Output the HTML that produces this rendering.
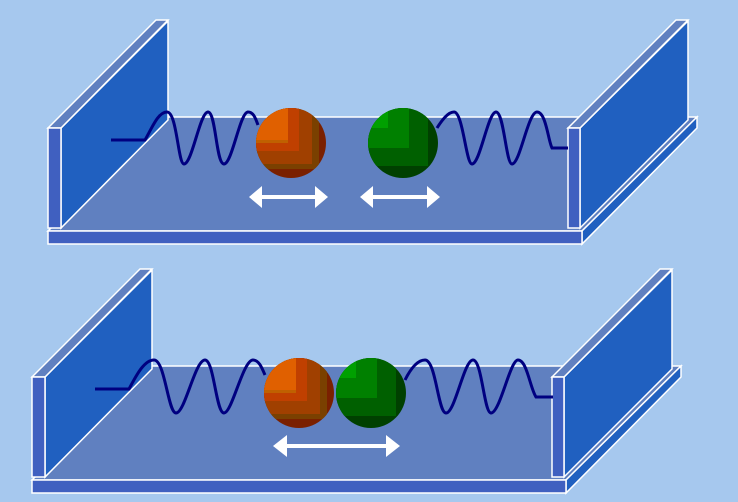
<!DOCTYPE html>
<html><head><meta charset="utf-8"><style>
html,body{margin:0;padding:0;background:#a6c8ee;}
svg{display:block;}
</style></head><body>
<svg width="738" height="502" viewBox="0 0 738 502" xmlns="http://www.w3.org/2000/svg">
<defs>
<clipPath id="cb"><circle cx="0" cy="0" r="35"/></clipPath>
<g id="track">
  <polygon points="168,117 697,117 582,231 48,231" fill="#6080c0" stroke="#fff" stroke-width="1.5"/>
  <polygon points="582,231 697,117 697,128 582,244" fill="#2060c0" stroke="#fff" stroke-width="1.5"/>
  <rect x="48" y="231" width="534" height="13" fill="#4060c0" stroke="#fff" stroke-width="1.5"/>
  <polygon points="61,128 168,21 168,120 61,228" fill="#2060c0" stroke="#fff" stroke-width="1.5"/>
  <polygon points="48,128 156,20 168,20 61,128" fill="#6080c0" stroke="#fff" stroke-width="1.5"/>
  <rect x="48" y="128" width="13" height="100" fill="#4060c0" stroke="#fff" stroke-width="1.5"/>
  <polygon points="580,128 688,21 688,120 580,228" fill="#2060c0" stroke="#fff" stroke-width="1.5"/>
  <polygon points="568,128 676,20 688,20 580,128" fill="#6080c0" stroke="#fff" stroke-width="1.5"/>
  <rect x="568" y="128" width="12" height="100" fill="#4060c0" stroke="#fff" stroke-width="1.5"/>
</g>
<g id="orange">
  <g clip-path="url(#cb)">
    <rect x="-35" y="-35" width="70" height="70" fill="#7a2000"/>
    <rect x="-35" y="-35" width="63" height="61" fill="#7a4000"/>
    <rect x="-35" y="-35" width="56" height="56" fill="#a04000"/>
    <rect x="-35" y="-35" width="43" height="43" fill="#c04000"/>
    <rect x="-35" y="-35" width="32" height="35" fill="#c06000"/>
    <rect x="-35" y="-35" width="32" height="32" fill="#e06000"/>
  </g>
</g>
<g id="green">
  <g clip-path="url(#cb)">
    <rect x="-35" y="-35" width="70" height="70" fill="#004000"/>
    <rect x="-35" y="-35" width="60" height="58" fill="#006000"/>
    <rect x="-35" y="-35" width="41" height="40" fill="#008000"/>
    <rect x="-35" y="-35" width="20" height="20" fill="#00a000"/>
  </g>
</g>
</defs>

<g><use href="#track"/></g>
<g transform="translate(-16,249)"><use href="#track"/></g>

<g fill="none" stroke="#000080" stroke-width="3">
  <path d="M111,140 L145,140 C152,128 158,112 167,112 C177,112 178,164 184,164 C192,164 200,112 208,112 C216,112 216,164 224,164 C232,164 240,112 248,112 C254,112 256,120 258,125"/>
  <path d="M437,128 C442,120 448,112 454,112 C463,112 466,164 472,164 C480,164 488,112 496,112 C504,112 506,164 512,164 C520,164 528,112 537,112 C546,112 548,140 552,148 L568,148"/>
  <path d="M95,389 L129,389 C136,376 144,360 154,360 C165,360 168,413 176,413 C185,413 195,360 205,360 C214,360 216,413 224,413 C232,413 243,360 253,360 C259,360 262,368 265,375"/>
  <path d="M405,380 C410,370 417,360 425,360 C436,360 438,413 446,413 C455,413 464,360 473,360 C482,360 484,413 491,413 C500,413 510,360 518,360 C527,360 530,388 536,397 L553,397"/>
</g>

<g transform="translate(291,143)"><use href="#orange"/></g>
<g transform="translate(403,143)"><use href="#green"/></g>
<g transform="translate(299,393)"><use href="#orange"/></g>
<g transform="translate(371,393)"><use href="#green"/></g>

<g fill="#fff">
  <g>
    <rect x="258" y="195" width="60" height="4"/>
    <polygon points="249,197 262,186 262,208"/>
    <polygon points="328,197 315,186 315,208"/>
  </g>
  <g>
    <rect x="369" y="195" width="62" height="4"/>
    <polygon points="360,197 373,186 373,208"/>
    <polygon points="440,197 427,186 427,208"/>
  </g>
  <g>
    <rect x="287" y="444" width="104" height="4"/>
    <polygon points="273,446 287,435 287,457"/>
    <polygon points="400,446 386,435 386,457"/>
  </g>
</g>
</svg>
</body></html>
